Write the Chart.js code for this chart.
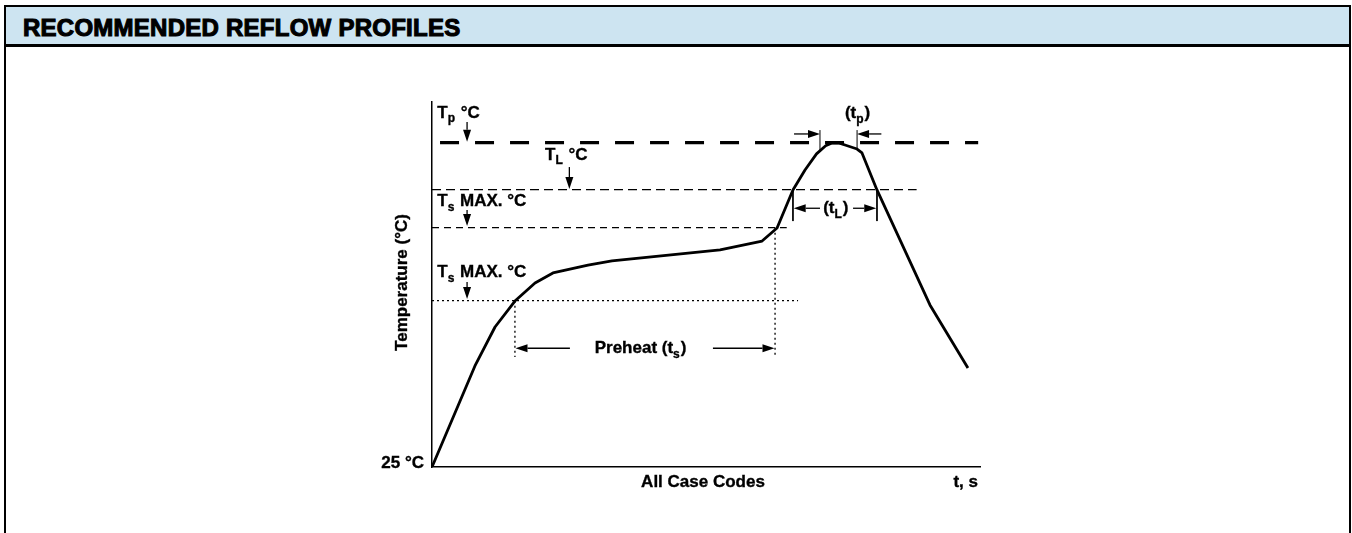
<!DOCTYPE html>
<html lang="en">
<head>
  <meta charset="UTF-8" />
  <title>Recommended Reflow Profiles</title>
  <script src="https://cdn.jsdelivr.net/npm/chart.js"></script>
  <style>
    html, body { margin: 0; padding: 0; background: #fff; overflow: hidden; }
    body { width: 1352px; height: 533px; position: relative; font-family: "Liberation Sans", Arial, sans-serif; }
    .panel { position: absolute; left: 4px; top: 5px; width: 1343px; height: 600px; border: 2px solid #000; }
    .panel-head { height: 37px; background: #cde4f1; border-bottom: 3px solid #000; }
    .panel-head h1 {
      margin: 0; padding-left: 17px; position: relative; top: 2px;
      font-size: 24px; line-height: 37px; font-weight: bold; color: #000;
      letter-spacing: 0.25px;
      -webkit-text-stroke: 1.1px #000;
    }
    #wrap { position: absolute; left: 0; top: 0; width: 1352px; height: 533px; }
  </style>
</head>
<body>
  <div class="panel">
    <div class="panel-head"><h1>RECOMMENDED REFLOW PROFILES</h1></div>
  </div>
  <div id="wrap"><canvas id="reflow"></canvas></div>

  <script>
    // profile curve (time in s, temperature in °C, nominal scale)
    const curveTime = [0, 23.5, 34.5, 45.4, 56.4, 66.2, 85.4, 98.5, 157.7, 180.7, 188.9, 197.6, 204.2, 210.5, 215.5, 219.0, 223.0, 226.1, 232.7, 235.4, 243.6, 272.6, 293.4];
    const curveTemp = [25, 87.3, 111.3, 127.3, 138.4, 144.6, 149.5, 152.0, 158.8, 164.3, 172.3, 195.8, 208.1, 218.0, 223.0, 224.7, 224.6, 223.5, 221.0, 218.6, 195.8, 124.9, 86.0];

    // temperature levels
    const tpTemp = 225;
    const tlTemp = 196;
    const tsMaxTemp = 172.5;
    const tsMinTemp = 127.5;

    // how far each level line runs along t
    const tpLineSpan = [4.4, 299];
    const tlLineSpan = [0, 265.3];
    const tsMaxLineSpan = [0, 194.2];
    const tsMinLineSpan = [0, 200.4];

    // time marks
    const preheatSpan = [45.4, 187.8];
    const tlSpan = [197.6, 243.6];
    const tpSpan = [212.4, 232.7];
    const preheatMarkBottom = 92.8;
    const tlMarkBottom = 176.6;
    const tpMarkTop = 232.7;
    const tpMarkBottom = [220.4, 221.0];

    // scale range
    const timeRange = [0, 300];
    const tempRange = [25, 250];

    const FONT = '"Liberation Sans", Arial, Helvetica, sans-serif';

    const pts = (xs, ys) => xs.map((x, i) => ({ x: x, y: ys[i] }));
    const hLine = (span, y) => [{ x: span[0], y: y }, { x: span[1], y: y }];
    const vLine = (x, y0, y1) => [{ x: x, y: y0 }, { x: x, y: y1 }];

    const base = { borderColor: '#000', pointRadius: 0, fill: false, tension: 0 };

    const datasets = [
      Object.assign({}, base, { label: 'profile', data: pts(curveTime, curveTemp), borderWidth: 2.8, borderJoinStyle: 'round' }),
      Object.assign({}, base, { label: 'Tp', data: hLine(tpLineSpan, tpTemp), borderWidth: 3.2, borderDash: [19, 16] }),
      Object.assign({}, base, { label: 'TL', data: hLine(tlLineSpan, tlTemp), borderWidth: 1.2, borderDash: [9, 5] }),
      Object.assign({}, base, { label: 'Ts max', data: hLine(tsMaxLineSpan, tsMaxTemp), borderWidth: 1.2, borderDash: [7, 5] }),
      Object.assign({}, base, { label: 'Ts min', data: hLine(tsMinLineSpan, tsMinTemp), borderWidth: 1.3, borderDash: [2, 3] }),
      Object.assign({}, base, { label: 'preheat start', data: vLine(preheatSpan[0], tsMinTemp, preheatMarkBottom), borderWidth: 1.3, borderDash: [2, 3] }),
      Object.assign({}, base, { label: 'preheat end', data: vLine(preheatSpan[1], tsMaxTemp, preheatMarkBottom), borderWidth: 1.3, borderDash: [2, 3] }),
      Object.assign({}, base, { label: 'tL start', data: vLine(tlSpan[0], tlTemp, tlMarkBottom), borderWidth: 1 }),
      Object.assign({}, base, { label: 'tL end', data: vLine(tlSpan[1], tlTemp, tlMarkBottom), borderWidth: 1 }),
      Object.assign({}, base, { label: 'tp start', data: vLine(tpSpan[0], tpMarkBottom[0], tpMarkTop), borderWidth: 1 }),
      Object.assign({}, base, { label: 'tp end', data: vLine(tpSpan[1], tpMarkBottom[1], tpMarkTop), borderWidth: 1 })
    ];

    // arrows: [fromT, fromTemp, toT, toTemp], head at the "to" end
    const arrows = [
      [19.2, 237.7, 19.2, tpTemp + 0.5],
      [75.2, 209.9, 75.2, tlTemp + 0.3],
      [19.2, 183.4, 19.2, tsMaxTemp + 1],
      [19.2, 139.0, 19.2, tsMinTemp + 1],
      [198.2, 230.3, tpSpan[0], 230.3],
      [246.0, 230.3, tpSpan[1], 230.3],
      [212.4, 184.5, tlSpan[0] + 0.4, 184.5],
      [230.5, 184.5, tlSpan[1] - 0.4, 184.5],
      [75.5, 98.2, preheatSpan[0] + 0.3, 98.2],
      [153.8, 98.2, preheatSpan[1] - 0.3, 98.2]
    ];

    // text labels with subscripts
    const labels = [
      { parts: [['T'], ['p', 1], [' °C']], t: 2.9, temp: 243.2, align: 'left' },
      { parts: [['T'], ['L', 1], [' °C']], t: 61.9, temp: 217.3, align: 'left' },
      { parts: [['T'], ['s', 1], [' MAX. °C']], t: 2.9, temp: 188.7, align: 'left' },
      { parts: [['T'], ['s', 1], [' MAX. °C']], t: 2.9, temp: 144.9, align: 'left' },
      { parts: [['(t'], ['p', 1], [')']], t: 232.7, temp: 243.0, align: 'center' },
      { parts: [['(t'], ['L', 1], [')']], t: 220.8, temp: 184.5, align: 'center' },
      { parts: [['Preheat (t'], ['s', 1], [')']], t: 113.9, temp: 98.2, align: 'center' }
    ];

    function drawArrow(ctx, x1, y1, x2, y2) {
      const a = Math.atan2(y2 - y1, x2 - x1);
      const len = 12, half = 4;
      const bx = x2 - len * Math.cos(a), by = y2 - len * Math.sin(a);
      ctx.beginPath();
      ctx.moveTo(x1, y1);
      ctx.lineTo(bx, by);
      ctx.stroke();
      ctx.beginPath();
      ctx.moveTo(x2, y2);
      ctx.lineTo(bx + half * Math.sin(a), by - half * Math.cos(a));
      ctx.lineTo(bx - half * Math.sin(a), by + half * Math.cos(a));
      ctx.closePath();
      ctx.fill();
    }

    // bold text with a thin stroke to get closer to the heavy Helvetica of the original
    function heavyText(ctx, s, x, y) {
      ctx.fillText(s, x, y);
      ctx.lineWidth = 0.35;
      ctx.strokeText(s, x, y);
    }

    function drawRich(ctx, parts, x, y, align) {
      const big = 'bold 17px ' + FONT;
      const small = 'bold 12px ' + FONT;
      let w = 0;
      parts.forEach(p => { ctx.font = p[1] ? small : big; w += ctx.measureText(p[0]).width; });
      let cx = align === 'center' ? x - w / 2 : (align === 'right' ? x - w : x);
      ctx.textAlign = 'left';
      ctx.textBaseline = 'middle';
      parts.forEach(p => {
        ctx.font = p[1] ? small : big;
        heavyText(ctx, p[0], cx, p[1] ? y + 6 : y);
        cx += ctx.measureText(p[0]).width + (p[1] ? 1 : 0);
      });
    }

    const annotate = {
      id: 'annotate',
      afterDraw(chart) {
        const ctx = chart.ctx;
        const xs = chart.scales.x, ys = chart.scales.y;
        const area = chart.chartArea;
        ctx.save();
        ctx.fillStyle = '#000';
        ctx.strokeStyle = '#000';
        arrows.forEach(a => {
          ctx.lineWidth = 1.3;
          drawArrow(ctx, xs.getPixelForValue(a[0]), ys.getPixelForValue(a[1]),
                         xs.getPixelForValue(a[2]), ys.getPixelForValue(a[3]));
        });
        labels.forEach(l => {
          drawRich(ctx, l.parts, xs.getPixelForValue(l.t), ys.getPixelForValue(l.temp), l.align);
        });

        // axis texts
        ctx.font = 'bold 17px ' + FONT;
        ctx.textBaseline = 'middle';
        ctx.textAlign = 'right';
        heavyText(ctx, '25 °C', area.left - 8, ys.getPixelForValue(tempRange[0]) - 4);
        heavyText(ctx, 't, s', area.right - 2, area.bottom + 15);
        ctx.textAlign = 'center';
        heavyText(ctx, 'All Case Codes', area.left + 271, area.bottom + 15);
        ctx.translate(area.left - 30, (area.top + area.bottom) / 2 - 2);
        ctx.rotate(-Math.PI / 2);
        heavyText(ctx, 'Temperature (°C)', 0, 0);
        ctx.restore();
      }
    };

    new Chart(document.getElementById('reflow').getContext('2d'), {
      type: 'line',
      data: { datasets: datasets },
      options: {
        responsive: true,
        maintainAspectRatio: false,
        animation: false,
        devicePixelRatio: 1,
        layout: { padding: { left: 432, right: 372, top: 102, bottom: 66 } },
        plugins: { legend: { display: false }, tooltip: { enabled: false } },
        scales: {
          x: {
            type: 'linear', min: timeRange[0], max: timeRange[1],
            grid: { display: false, drawTicks: false },
            border: { display: true, color: '#000', width: 1.5 },
            ticks: { display: false }
          },
          y: {
            type: 'linear', min: tempRange[0], max: tempRange[1],
            grid: { display: false, drawTicks: false },
            border: { display: true, color: '#000', width: 1.5 },
            ticks: { display: false }
          }
        }
      },
      plugins: [annotate]
    });
  </script>
</body>
</html>
